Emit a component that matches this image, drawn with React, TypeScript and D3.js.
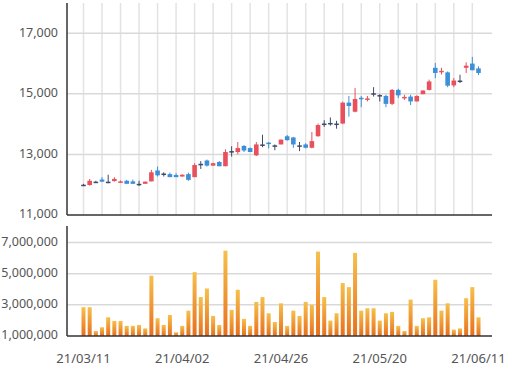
import React from "react";
import * as d3 from "d3";

const dates = [
  "21/03/11","21/03/12","21/03/15","21/03/16","21/03/17","21/03/18","21/03/19","21/03/22","21/03/23","21/03/24","21/03/25","21/03/26","21/03/29","21/03/30","21/03/31",
  "21/04/01","21/04/02","21/04/05","21/04/06","21/04/07","21/04/08","21/04/09","21/04/12","21/04/13","21/04/14","21/04/15","21/04/16","21/04/19","21/04/20","21/04/21","21/04/22","21/04/23","21/04/26","21/04/27","21/04/28","21/04/29","21/04/30",
  "21/05/03","21/05/04","21/05/06","21/05/07","21/05/10","21/05/11","21/05/12","21/05/13","21/05/14","21/05/17","21/05/18","21/05/20","21/05/21","21/05/24","21/05/25","21/05/26","21/05/27","21/05/28","21/05/31",
  "21/06/01","21/06/02","21/06/03","21/06/04","21/06/07","21/06/08","21/06/09","21/06/10","21/06/11",
];

const openP = [12000,11990,12100,12170,12100,12120,12090,12130,12110,12030,12030,12110,12470,12370,12350,12320,12270,12350,12250,12690,12800,12630,12750,12610,13110,13080,13280,13210,12970,13330,13390,13300,13330,13600,13560,13300,13330,13220,13600,14020,14040,14020,14020,14710,14410,14870,14820,15020,14960,14930,14670,15130,14850,14910,14750,14990,15130,15860,15730,15710,15280,15440,15860,16000,15840];
const highP = [12030,12190,12130,12250,12330,12250,12140,12160,12170,12130,12110,12490,12600,12410,12400,12380,12340,12400,12710,12780,12830,12720,12780,13170,13270,13410,13310,13230,13410,13650,13410,13330,13490,13640,13580,13410,13370,13740,14020,14130,14220,14110,14740,14930,15190,14930,14930,15220,14990,14970,15160,15170,14970,14970,14950,15120,15470,16020,15860,15740,15520,15630,16040,16220,15910];
const lowP = [11970,11970,12070,12100,12050,12100,12070,12020,12030,11960,12030,12110,12270,12270,12250,12250,12270,12130,12250,12520,12600,12630,12610,12610,12930,13000,13080,13080,12950,13240,13200,13140,13330,13460,13220,13110,13200,13200,13590,13910,13950,13850,14000,14250,14390,14560,14750,14910,14750,14560,14630,14860,14800,14630,14750,14990,15110,15520,15640,15220,15220,15360,15690,15780,15620];
const closeP = [12000,12130,12100,12100,12100,12190,12110,12030,12030,12030,12100,12410,12310,12370,12250,12250,12330,12160,12650,12690,12630,12710,12610,13080,13110,13210,13130,13080,13330,13330,13360,13300,13490,13470,13330,13300,13220,13440,13970,14020,14040,14020,14710,14600,14830,14840,14850,15020,14960,14670,15130,14950,14900,14750,14930,15110,15410,15690,15760,15270,15440,15440,15930,15780,15690];
const volume = [2850000,2850000,1320000,1560000,2200000,1970000,1970000,1650000,1650000,1710000,1490000,4870000,2140000,1710000,2350000,1240000,1650000,2630000,5100000,3500000,4050000,2290000,1710000,6480000,2680000,3970000,2100000,1650000,3190000,3500000,2460000,1900000,3100000,1650000,2630000,2290000,3190000,3000000,6420000,3500000,1990000,2460000,4400000,4140000,6340000,2630000,2780000,2780000,1990000,2460000,2550000,1650000,1320000,3340000,1650000,2140000,2200000,4610000,2630000,3100000,1410000,1490000,3430000,4140000,2200000];

const priceTicks = [11000, 13000, 15000, 17000];
const volTicks = [1000000, 3000000, 5000000, 7000000];
const dateTickEvery = 16;
const gridEvery = 3;

export default function App() {
  const left = 67, right = 492;
  const x = d3.scalePoint<string>().domain(dates).range([83.5, 478.5]);
  const yP = d3.scaleLinear().domain([11000, 18000]).range([215, 3]);
  const yV = d3.scaleLinear().domain([1000000, 8000000]).range([336, 227]);
  const fmt = d3.format(",");
  const font = "'Noto Sans', 'Open Sans', sans-serif";
  const up = "#e8505b", down = "#3d8fd8", flat = "#3e4b66";
  const bw = 4.6, vw = 4;
  return (
    <svg width={512} height={382} style={{ position: "absolute", left: 0, top: 0 }}>
      <defs>
        <linearGradient id="vg" x1="0" y1="0" x2="0" y2="1">
          <stop offset="0%" stopColor="#f6c04c" />
          <stop offset="100%" stopColor="#e86f1c" />
        </linearGradient>
      </defs>
      <rect width={512} height={382} fill="#fff" />
      {dates.map((d, i) => i % gridEvery === 0 ? (
        <line key={"vg" + i} x1={x(d)} x2={x(d)} y1={3} y2={215} stroke="#e3e3e3" strokeWidth={1.5} />
      ) : null)}
      {priceTicks.filter(t => t > 11000).map(t => (
        <line key={"pg" + t} x1={left} x2={right} y1={yP(t)} y2={yP(t)} stroke="#d9d9d9" strokeWidth={1.5} />
      ))}
      {priceTicks.map(t => (
        <text key={"pt" + t} x={58} y={yP(t)} textAnchor="end" dominantBaseline="middle" fontFamily={font} fontSize={12.5} fill="#555">{fmt(t)}</text>
      ))}
      {dates.map((d, i) => {
        const o = openP[i], c = closeP[i];
        const col = c > o ? up : c < o ? down : flat;
        const cx = x(d)!;
        const top = yP(Math.max(o, c)), bot = yP(Math.min(o, c));
        return (
          <g key={"c" + i}>
            <line x1={cx} x2={cx} y1={yP(highP[i])} y2={yP(lowP[i])} stroke={col} strokeWidth={1} />
            <rect x={cx - bw / 2} y={top} width={bw} height={Math.max(bot - top, 1.5)} fill={col} />
          </g>
        );
      })}
      <line x1={left} x2={left} y1={3} y2={215} stroke="#333" strokeWidth={1.5} />
      <line x1={left} x2={right} y1={215} y2={215} stroke="#333" strokeWidth={1.5} />
      {volTicks.filter(t => t > 1000000).map(t => (
        <line key={"vgl" + t} x1={left} x2={right} y1={yV(t)} y2={yV(t)} stroke="#d9d9d9" strokeWidth={1.5} />
      ))}
      {volTicks.map(t => (
        <text key={"vt" + t} x={58} y={yV(t)} textAnchor="end" dominantBaseline="middle" fontFamily={font} fontSize={12.5} fill="#555">{fmt(t)}</text>
      ))}
      {dates.map((d, i) => (
        <rect key={"v" + i} x={x(d)! - vw / 2} y={yV(volume[i])} width={vw} height={336 - yV(volume[i])} fill="url(#vg)" />
      ))}
      <line x1={left} x2={left} y1={226} y2={336} stroke="#333" strokeWidth={1.5} />
      <line x1={left} x2={right} y1={336} y2={336} stroke="#333" strokeWidth={1.5} />
      {dates.map((d, i) => i % dateTickEvery === 0 ? (
        <text key={"dt" + i} x={x(d)} y={360} textAnchor="middle" dominantBaseline="middle" fontFamily={font} fontSize={13} fill="#555">{d}</text>
      ) : null)}
    </svg>
  );
}
